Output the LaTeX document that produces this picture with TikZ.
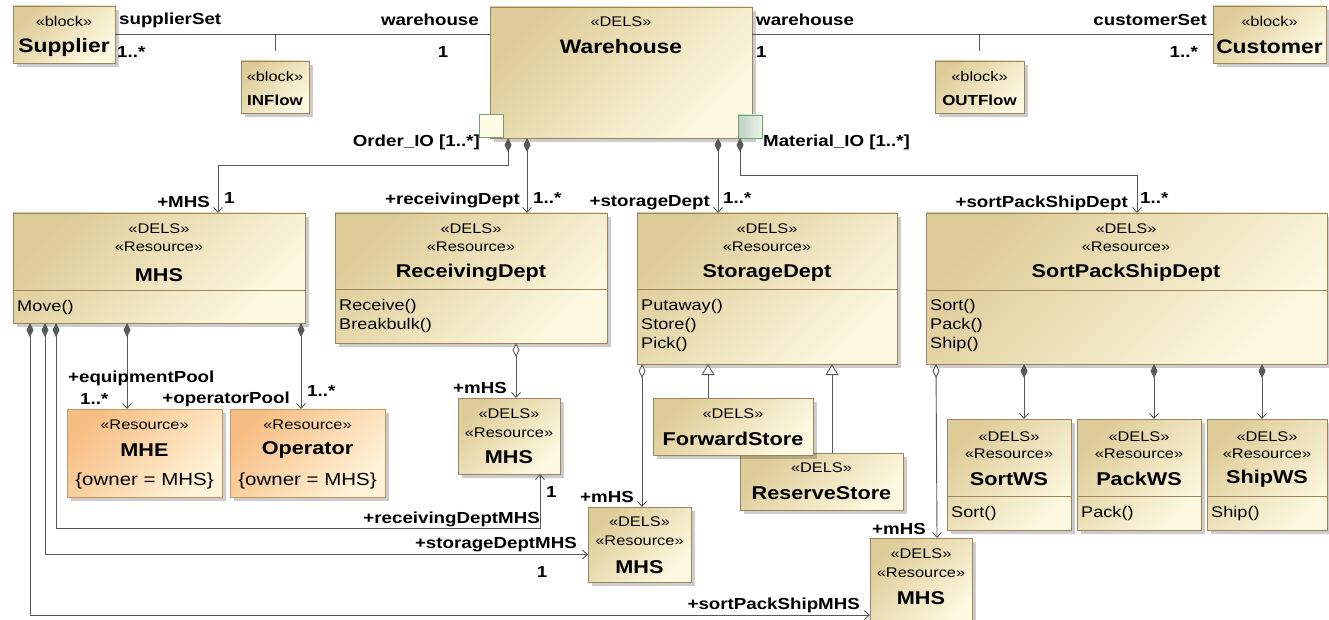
\documentclass[tikz,border=0pt]{standalone}
\usepackage{fontspec}
\setmainfont{Liberation Sans}[FakeStretch=1.17]
\usetikzlibrary{arrows.meta,shadows}
\definecolor{tanA}{RGB}{222,204,152}
\definecolor{tanB}{RGB}{253,249,224}
\definecolor{orA}{RGB}{247,190,132}
\definecolor{orB}{RGB}{254,243,216}
\definecolor{bline}{RGB}{158,132,92}
\definecolor{oline}{RGB}{196,150,100}
\definecolor{cline}{RGB}{88,88,88}
\definecolor{pgreen}{RGB}{112,165,112}
\definecolor{portA}{RGB}{252,253,228}
\definecolor{portB1}{RGB}{188,208,192}
\definecolor{portB2}{RGB}{236,243,236}
\tikzset{
  box/.style={draw=bline, line width=0.9pt, top color=tanA, bottom color=tanB, shading angle=45,
    anchor=north west, inner sep=0pt, outer sep=0pt,
    drop shadow={shadow xshift=4pt, shadow yshift=-4pt, fill=black, opacity=0.2}},
  obox/.style={box, draw=oline, top color=orA, bottom color=orB, shading angle=45},
  port/.style={draw=pgreen, line width=0.9pt, anchor=north west, inner sep=0pt, outer sep=0pt,
    minimum width=24pt, minimum height=23pt},
  divl/.style={draw=bline, line width=0.9pt},
  conn/.style={draw=cline, line width=0.9pt},
  comp/.style={conn, {Diamond[length=14pt,width=7pt,fill=cline]}-{Straight Barb[length=5pt,width=9pt]}},
  aggr/.style={conn, {Diamond[length=14pt,width=7pt,fill=white]}-{Straight Barb[length=5pt,width=9pt]}},
  gen/.style={conn, -{Triangle[length=11pt,width=13pt,fill=white]}},
  stereo/.style={inner sep=0pt, font=\fontsize{14}{16}\selectfont},
  ttl/.style={inner sep=0pt, font=\bfseries\fontsize{18.5}{20}\selectfont},
  bigttl/.style={inner sep=0pt, font=\bfseries\fontsize{19.5}{21}\selectfont},
  smttl/.style={inner sep=0pt, font=\bfseries\fontsize{14.5}{16}\selectfont},
  body/.style={inner sep=0pt, anchor=west, font=\fontsize{15.5}{18}\selectfont},
  cons/.style={inner sep=0pt, font=\fontsize{17.5}{20}\selectfont},
  lbl/.style={inner sep=0pt, font=\bfseries\fontsize{16}{18}\selectfont},
}
\begin{document}
\begin{tikzpicture}[x=1pt,y=-1pt]
\useasboundingbox[fill=white] (0,0) rectangle (1329,620);

% ---------- boxes ----------
\node[box, minimum width=102pt, minimum height=57pt] (supplier) at (13,6) {};
\node[box, minimum width=68pt, minimum height=52pt] (inflow) at (241,61) {};
\node[box, minimum width=262pt, minimum height=131pt] (warehouse) at (490,7) {};
\node[box, minimum width=89pt, minimum height=52pt] (outflow) at (935,61) {};
\node[box, minimum width=113pt, minimum height=57pt] (customer) at (1213,6) {};
\node[port, fill=portA] (orderport) at (479,114) {};
\node[port, left color=portB1, right color=portB2] (matport) at (738,115) {};

\node[box, minimum width=292pt, minimum height=110pt] (mhs) at (13,213) {};
\node[box, minimum width=272pt, minimum height=130pt] (recv) at (335,213) {};
\node[box, minimum width=260pt, minimum height=151pt] (stor) at (637,213) {};
\node[box, minimum width=401pt, minimum height=151pt] (sps) at (926,213) {};
\draw[divl] ([yshift=-77pt]mhs.north west) -- ([yshift=-77pt]mhs.north east);
\draw[divl] ([yshift=-76pt]recv.north west) -- ([yshift=-76pt]recv.north east);
\draw[divl] ([yshift=-76pt]stor.north west) -- ([yshift=-76pt]stor.north east);
\draw[divl] ([yshift=-77pt]sps.north west) -- ([yshift=-77pt]sps.north east);

\node[obox, minimum width=155pt, minimum height=88pt] (mhe) at (67,409) {};
\node[obox, minimum width=155pt, minimum height=88pt] (oper) at (230,409) {};
\node[box, minimum width=102pt, minimum height=76pt] (mhsR) at (458,398) {};
\node[box, minimum width=103pt, minimum height=75pt] (mhsS) at (588,507) {};
\node[box, minimum width=102pt, minimum height=90pt] (mhsP) at (870,538) {};
\node[box, minimum width=163pt, minimum height=57pt] (res) at (740,453) {};
\node[box, minimum width=160pt, minimum height=57pt] (fwd) at (653,398) {};
\node[box, minimum width=124pt, minimum height=111pt] (sortws) at (947,419) {};
\node[box, minimum width=124pt, minimum height=111pt] (packws) at (1077,419) {};
\node[box, minimum width=120pt, minimum height=111pt] (shipws) at (1207,419) {};
\draw[divl] ([yshift=-77pt]sortws.north west) -- ([yshift=-77pt]sortws.north east);
\draw[divl] ([yshift=-77pt]packws.north west) -- ([yshift=-77pt]packws.north east);
\draw[divl] ([yshift=-77pt]shipws.north west) -- ([yshift=-77pt]shipws.north east);

% ---------- box texts ----------
\node[stereo] (supS) at (64,22) {«block»};
\node[bigttl] (supT) at (64,47) {Supplier};
\node[stereo] (inS) at (275,76) {«block»};
\node[smttl] (inT) at (275,100) {INFlow};
\node[stereo] (outS) at (979.5,76) {«block»};
\node[smttl] (outT) at (979.5,100) {OUTFlow};
\node[stereo] (cusS) at (1269.5,22) {«block»};
\node[bigttl] (cusT) at (1269.5,47) {Customer};
\node[stereo] (whS) at (621,22) {«DELS»};
\node[bigttl] (whT) at (621,47) {Warehouse};

\node[stereo] (mhsS1) at (159,229) {«DELS»};
\node[stereo] (mhsS2) at (159,247) {«Resource»};
\node[ttl] (mhsT) at (159,275) {MHS};
\node[body] (mhsB1) at (17,307) {Move()};

\node[stereo] (recvS1) at (471,229) {«DELS»};
\node[stereo] (recvS2) at (471,247) {«Resource»};
\node[ttl] (recvT) at (471,273) {ReceivingDept};
\node[body] (recvB1) at (339,306) {Receive()};
\node[body] (recvB2) at (339,325) {Breakbulk()};

\node[stereo] (storS1) at (767,229) {«DELS»};
\node[stereo] (storS2) at (767,247) {«Resource»};
\node[ttl] (storT) at (767,273) {StorageDept};
\node[body] (storB1) at (641,306) {Putaway()};
\node[body] (storB2) at (641,325) {Store()};
\node[body] (storB3) at (641,344) {Pick()};

\node[stereo] (spsS1) at (1126,229) {«DELS»};
\node[stereo] (spsS2) at (1126,247) {«Resource»};
\node[ttl] (spsT) at (1126,273) {SortPackShipDept};
\node[body] (spsB1) at (930,306) {Sort()};
\node[body] (spsB2) at (930,325) {Pack()};
\node[body] (spsB3) at (930,344) {Ship()};

\node[stereo] (mheS) at (144.5,425) {«Resource»};
\node[ttl] (mheT) at (144.5,450) {MHE};
\node[cons] (mheC) at (144.5,481) {\{owner = MHS\}};
\node[stereo] (operS) at (307.5,425) {«Resource»};
\node[ttl] (operT) at (307.5,450) {Operator};
\node[cons] (operC) at (307.5,481) {\{owner = MHS\}};

\node[stereo] (mhsRS1) at (509,414) {«DELS»};
\node[stereo] (mhsRS2) at (509,433) {«Resource»};
\node[ttl] (mhsRT) at (509,457) {MHS};
\node[stereo] (mhsSS1) at (639.5,522) {«DELS»};
\node[stereo] (mhsSS2) at (639.5,541) {«Resource»};
\node[ttl] (mhsST) at (639.5,567) {MHS};
\node[stereo] (mhsPS1) at (921,554) {«DELS»};
\node[stereo] (mhsPS2) at (921,573) {«Resource»};
\node[ttl] (mhsPT) at (921,598) {MHS};

\node[stereo] (fwdS) at (733,414) {«DELS»};
\node[ttl] (fwdT) at (733,439) {ForwardStore};
\node[stereo] (resS) at (821.5,468) {«DELS»};
\node[ttl] (resT) at (821.5,493) {ReserveStore};

\node[stereo] (sortS1) at (1009,437) {«DELS»};
\node[stereo] (sortS2) at (1009,454) {«Resource»};
\node[ttl] (sortT) at (1009,479) {SortWS};
\node[body] (sortB) at (951,513) {Sort()};
\node[stereo] (packS1) at (1139,437) {«DELS»};
\node[stereo] (packS2) at (1139,454) {«Resource»};
\node[ttl] (packT) at (1139,479) {PackWS};
\node[body] (packB) at (1081,513) {Pack()};
\node[stereo] (shipS1) at (1267,437) {«DELS»};
\node[stereo] (shipS2) at (1267,454) {«Resource»};
\node[ttl] (shipT) at (1267,479) {ShipWS};
\node[body] (shipB) at (1211,513) {Ship()};

% ---------- associations (top) ----------
\draw[conn] (supplier.east) -- (supplier.east -| warehouse.west);
\draw[conn] (customer.west -| warehouse.east) -- (customer.west);
\draw[conn] ([yshift=10pt]inflow.north) -- ++(0,-17);
\draw[conn] ([yshift=10pt]outflow.north) -- ++(0,-17);

% ---------- compositions from Warehouse ----------
\coordinate (b1) at (218,165);
\coordinate (b4) at (1137,175);
\draw[comp] ([xshift=18pt]warehouse.south west) |- (b1) -- ([xshift=205pt]mhs.north west);
\draw[comp] ([xshift=37pt]warehouse.south west) -- ([xshift=192pt]recv.north west);
\draw[comp] ([xshift=228pt]warehouse.south west) -- ([xshift=81pt]stor.north west);
\draw[comp] ([xshift=250pt]warehouse.south west) |- (b4) -- ([xshift=211pt]sps.north west);

% ---------- from MHS ----------
\draw[comp] ([xshift=114pt]mhs.south west) -- ([xshift=60pt]mhe.north west);
\draw[comp] ([xshift=288pt]mhs.south west) -- ([xshift=71pt]oper.north west);
\coordinate (bR) at (540,528);
\draw[comp] ([xshift=43pt]mhs.south west) |- (bR) -- ([xshift=82pt]mhsR.south west);
\draw[comp] ([xshift=32pt]mhs.south west) |- ([yshift=-10pt]mhsS.west);
\coordinate (bP) at (870,615);
\draw[comp] ([xshift=17pt]mhs.south west) |- (bP);

% ---------- aggregations ----------
\draw[aggr] ([xshift=181pt]recv.south west) -- ([xshift=58pt]mhsR.north west);
\draw[aggr] ([xshift=5pt]stor.south west) -- ([xshift=54pt]mhsS.north west);
\draw[aggr] ([xshift=10pt]sps.south west) -- ([xshift=67pt]mhsP.north west);

% ---------- compositions from SortPackShipDept ----------
\draw[comp] ([xshift=98pt]sps.south west) -- ([xshift=77pt]sortws.north west);
\draw[comp] ([xshift=228pt]sps.south west) -- ([xshift=77pt]packws.north west);
\draw[comp] ([xshift=336pt]sps.south west) -- ([xshift=55pt]shipws.north west);

% ---------- generalizations ----------
\draw[gen] ([xshift=55pt]fwd.north west) -- ([xshift=71pt]stor.south west);
\draw[gen] ([xshift=92pt]res.north west) -- ([xshift=195pt]stor.south west);

% ---------- labels ----------
\node[lbl, anchor=west] (l1) at (119,20) {supplierSet};
\node[lbl, anchor=west] (l2) at (117,52) {1..*};
\node[lbl, anchor=east] (l3) at (479,20) {warehouse};
\node[lbl] (l4) at (443,52) {1};
\node[lbl, anchor=west] (l5) at (756,20) {warehouse};
\node[lbl, anchor=west] (l6) at (756,52) {1};
\node[lbl, anchor=east] (l7) at (1207,20) {customerSet};
\node[lbl, anchor=east] (l8) at (1198,52) {1..*};
\node[lbl, anchor=east] (l9) at (480,142) {Order\_IO [1..*]};
\node[lbl, anchor=west] (l10) at (763,142) {Material\_IO [1..*]};

\node[lbl, anchor=east] (l11) at (210,202) {+MHS};
\node[lbl, anchor=west] (l12) at (224,198) {1};
\node[lbl, anchor=east] (l13) at (520,200) {+receivingDept};
\node[lbl, anchor=west] (l14) at (533,198) {1..*};
\node[lbl, anchor=east] (l15) at (710,203) {+storageDept};
\node[lbl, anchor=west] (l16) at (723,198) {1..*};
\node[lbl, anchor=east] (l17) at (1128,203) {+sortPackShipDept};
\node[lbl, anchor=west] (l18) at (1140,198) {1..*};

\node[lbl, anchor=west] (l19) at (68,378) {+equipmentPool};
\node[lbl, anchor=west] (l20) at (80,399) {1..*};
\node[lbl, anchor=east] (l21) at (290,399) {+operatorPool};
\node[lbl, anchor=west] (l22) at (307,391) {1..*};

\node[lbl, anchor=west] (l23) at (453,388) {+mHS};
\node[lbl, anchor=west] (l24) at (546,492) {1};
\node[lbl, anchor=east] (l25) at (540,519) {+receivingDeptMHS};
\node[lbl, anchor=east] (l26) at (577,545) {+storageDeptMHS};
\node[lbl] (l27) at (542,572) {1};
\node[lbl, anchor=west] (l28) at (580,497) {+mHS};
\node[lbl, anchor=east] (l29) at (860,605) {+sortPackShipMHS};
\node[lbl, anchor=west] (l30) at (872,529) {+mHS};
\end{tikzpicture}
\end{document}
